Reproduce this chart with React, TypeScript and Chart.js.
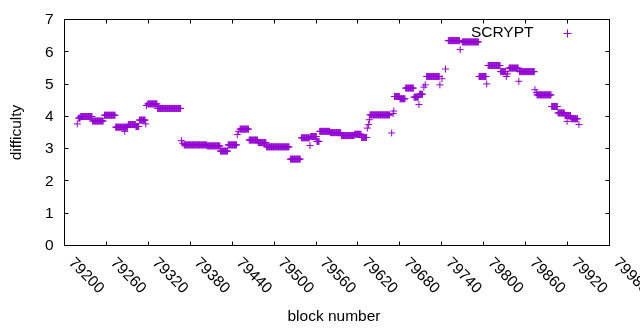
import { useEffect, useRef } from 'react';
import { Chart, registerables } from 'chart.js';

Chart.register(...registerables);

// Runs of consecutive blocks sharing one difficulty value
const runStart = [
  79219, 79221, 79224, 79241, 79258, 79274, 79287, 79292, 79303, 79308,
  79317, 79318, 79320, 79334, 79368, 79370, 79372, 79405, 79424, 79435,
  79448, 79450, 79452, 79465, 79478, 79490, 79524, 79540, 79552, 79553,
  79562, 79566, 79581, 79597, 79616, 79626, 79634, 79636, 79637, 79638,
  79669, 79671, 79672, 79673, 79681, 79689, 79701, 79708, 79709, 79715,
  79717, 79719, 79738, 79741, 79746, 79750, 79767, 79770, 79794, 79805,
  79807, 79825, 79833, 79835, 79837, 79851, 79852, 79874, 79876, 79877,
  79898, 79907, 79917, 79920, 79926, 79937,
];
const runEnd = [
  79219, 79223, 79240, 79256, 79273, 79291, 79287, 79302, 79307, 79316,
  79317, 79318, 79333, 79367, 79368, 79370, 79404, 79423, 79434, 79447,
  79448, 79450, 79464, 79477, 79489, 79522, 79538, 79551, 79552, 79561,
  79565, 79580, 79596, 79615, 79625, 79633, 79634, 79636, 79637, 79666,
  79669, 79671, 79672, 79680, 79688, 79700, 79707, 79708, 79713, 79715,
  79717, 79737, 79738, 79741, 79746, 79766, 79767, 79793, 79804, 79805,
  79824, 79832, 79833, 79835, 79850, 79851, 79873, 79874, 79876, 79897,
  79906, 79916, 79925, 79920, 79935, 79937,
];
const runDifficulty = [
  3.75, 3.93, 3.98, 3.84, 4.02, 3.65, 3.52, 3.73, 3.67, 3.87,
  3.75, 4.32, 4.37, 4.23, 3.23, 3.15, 3.10, 3.07, 2.91, 3.10,
  3.42, 3.52, 3.59, 3.25, 3.17, 3.04, 2.66, 3.32, 3.08, 3.36,
  3.21, 3.52, 3.48, 3.39, 3.43, 3.33, 3.62, 3.73, 3.88, 4.03,
  3.47, 4.07, 4.15, 4.60, 4.53, 4.86, 4.58, 4.35, 4.67, 4.89,
  4.96, 5.22, 4.96, 5.15, 5.45, 6.33, 6.05, 6.29, 5.22, 4.99,
  5.56, 5.37, 5.22, 5.30, 5.48, 5.07, 5.37, 4.81, 4.72, 4.65,
  4.29, 4.09, 4.01, 3.83, 3.91, 3.73,
];

const xTickValues = [
  79200, 79260, 79320, 79380, 79440, 79500, 79560, 79620, 79680, 79740,
  79800, 79860, 79920, 79980,
];
const yTickValues = [0, 1, 2, 3, 4, 5, 6, 7];
const seriesLabel = 'SCRYPT';
const xTitle = 'block number';
const yTitle = 'difficulty';

const COLOR = '#9400D3';
const FONT = '15.5px "Liberation Sans", Arial, sans-serif';

function buildPoints() {
  const pts: { x: number; y: number }[] = [];
  for (let i = 0; i < runStart.length; i++) {
    for (let b = runStart[i]; b <= runEnd[i]; b++) {
      pts.push({ x: b, y: runDifficulty[i] });
    }
  }
  return pts;
}

const gnuplotFrame = {
  id: 'gnuplotFrame',
  afterDatasetsDraw(chart: any) {
    const { ctx, chartArea: a, scales } = chart;
    const xs = scales.x;
    const ys = scales.y;
    const L = Math.round(a.left) + 0.5;
    const R = Math.round(a.right) + 0.5;
    const T = Math.round(a.top) + 0.5;
    const B = Math.round(a.bottom) + 0.5;
    ctx.save();
    ctx.strokeStyle = '#000';
    ctx.lineWidth = 1;
    ctx.strokeRect(L, T, R - L, B - T);
    ctx.beginPath();
    for (const v of xTickValues) {
      const px = Math.round(xs.getPixelForValue(v)) + 0.5;
      ctx.moveTo(px, B);
      ctx.lineTo(px, B - 4);
      ctx.moveTo(px, T);
      ctx.lineTo(px, T + 4);
    }
    for (const v of yTickValues) {
      const py = Math.round(ys.getPixelForValue(v)) + 0.5;
      ctx.moveTo(L, py);
      ctx.lineTo(L + 4, py);
      ctx.moveTo(R, py);
      ctx.lineTo(R - 4, py);
    }
    ctx.stroke();

    ctx.fillStyle = '#000';
    ctx.font = FONT;
    ctx.textAlign = 'right';
    ctx.textBaseline = 'middle';
    for (const v of yTickValues) {
      ctx.fillText(String(v), L - 11, ys.getPixelForValue(v) + 1);
    }

    ctx.textAlign = 'left';
    for (const v of xTickValues) {
      const px = xs.getPixelForValue(v);
      ctx.save();
      ctx.translate(px + 7, B + 15);
      ctx.rotate(Math.PI / 4);
      ctx.fillText(String(v), 0, 0);
      ctx.restore();
    }

    ctx.textAlign = 'center';
    ctx.fillText(xTitle, (L + R) / 2 - 3, 317);
    ctx.save();
    ctx.translate(17, (T + B) / 2);
    ctx.rotate(-Math.PI / 2);
    ctx.fillText(yTitle, 0, 0);
    ctx.restore();

    // legend (gnuplot style: text then sample)
    ctx.textAlign = 'right';
    ctx.fillText(seriesLabel, R - 76, T + 13);
    const mx = R - 42;
    const my = Math.round(T + 13) + 0.5;
    ctx.strokeStyle = COLOR;
    ctx.beginPath();
    ctx.moveTo(mx - 4, my);
    ctx.lineTo(mx + 4, my);
    ctx.moveTo(mx, my - 4);
    ctx.lineTo(mx, my + 4);
    ctx.stroke();
    ctx.restore();
  },
};

export default function App() {
  const ref = useRef<HTMLCanvasElement>(null);
  useEffect(() => {
    if (!ref.current) return;
    const chart = new Chart(ref.current, {
      type: 'scatter',
      data: {
        datasets: [
          {
            label: seriesLabel,
            data: buildPoints(),
            pointStyle: 'cross',
            pointRadius: 3.5,
            pointHoverRadius: 3.5,
            borderWidth: 1,
            borderColor: COLOR,
            backgroundColor: COLOR,
            showLine: false,
          },
        ],
      },
      options: {
        animation: false,
        responsive: true,
        maintainAspectRatio: false,
        layout: { padding: { left: 64, right: 31, top: 19, bottom: 85 } },
        plugins: { legend: { display: false }, tooltip: { enabled: false } },
        events: [],
        scales: {
          x: { type: 'linear', min: 79200, max: 79980, display: false },
          y: { type: 'linear', min: 0, max: 7, display: false },
        },
      },
      plugins: [gnuplotFrame],
    });
    return () => chart.destroy();
  }, []);
  return (
    <div style={{ position: 'absolute', left: 0, top: 0, width: 640, height: 330, background: '#fff' }}>
      <canvas ref={ref} />
    </div>
  );
}
